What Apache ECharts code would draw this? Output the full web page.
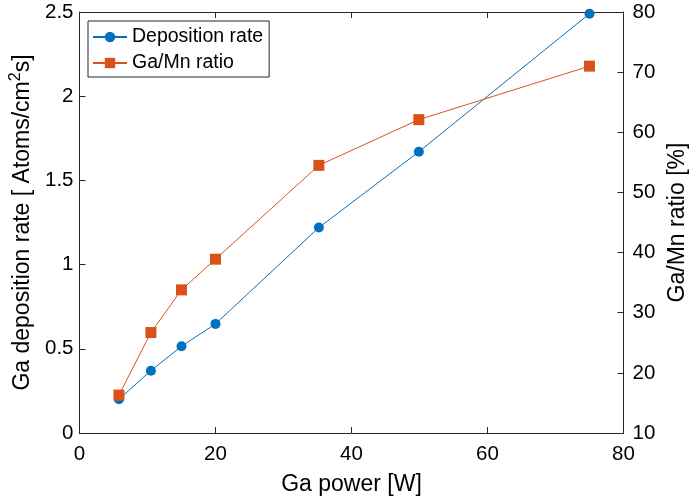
<!DOCTYPE html>
<html><head><meta charset="utf-8">
<script src="https://cdn.jsdelivr.net/npm/echarts@6/dist/echarts.min.js"></script>
<style>html,body{margin:0;padding:0;background:#fff}#c{width:691px;height:504px}</style>
</head><body><div id="c"></div>
<script>
var gaPower = [5.8, 10.5, 15, 20, 35.2, 49.9, 75];
var depositionRate = [0.2, 0.37, 0.515, 0.648, 1.22, 1.67, 2.49];
var gaMnRatio = [16.3, 26.7, 33.8, 38.9, 54.5, 62.1, 71.0];
var seriesNames = ['Deposition rate', 'Ga/Mn ratio'];

var FONT = '"Liberation Sans", Arial, sans-serif';
var AX = '#262626';
var NAMESIZE = 23;
var chart = echarts.init(document.getElementById('c'), null, {renderer: 'canvas'});
var axisCommon = {
  axisLine: {show: true, onZero: false, lineStyle: {color: AX, width: 1}},
  axisTick: {show: true, inside: true, length: 6, lineStyle: {color: AX}},
  splitLine: {show: false},
  axisLabel: {color: '#000', fontSize: 20.5, fontFamily: FONT},
  nameTextStyle: {color: '#000', fontSize: NAMESIZE, fontFamily: FONT}
};
chart.setOption({
  animation: false,
  grid: {left: 79.5, right: 67.5, top: 12, bottom: 71, containLabel: false, outerBoundsMode: 'none'},
  legend: {
    orient: 'vertical', left: 88, top: 21,
    itemWidth: 34, itemHeight: 13, itemGap: 6,
    padding: [6, 6, 4, 4],
    borderColor: AX, borderWidth: 1,
    textStyle: {color: '#000', fontSize: 19.5, lineHeight: 20, fontFamily: FONT},
    data: seriesNames
  },
  xAxis: [
    Object.assign({}, axisCommon, {
      type: 'value', min: 0, max: 80, interval: 20, position: 'bottom',
      name: 'Ga power [W]', nameLocation: 'middle', nameGap: 40,
      axisLabel: Object.assign({}, axisCommon.axisLabel, {margin: 11})
    }),
    Object.assign({}, axisCommon, {
      type: 'value', min: 0, max: 80, interval: 20, position: 'top',
      axisLabel: {show: false}
    })
  ],
  yAxis: [
    Object.assign({}, axisCommon, {
      type: 'value', min: 0, max: 2.5, interval: 0.5, position: 'left',
      name: '{a|Ga deposition rate [ Atoms/cm}{s|2}{a|s]}', nameLocation: 'middle', nameGap: 40,
      nameTextStyle: {
        color: '#000', fontSize: NAMESIZE, fontFamily: FONT,
        rich: {
          a: {color: '#000', fontSize: NAMESIZE, fontFamily: FONT, lineHeight: 27, verticalAlign: 'bottom'},
          s: {color: '#000', fontSize: 16, fontFamily: FONT, lineHeight: 27, verticalAlign: 'top'}
        }
      },
      axisLabel: Object.assign({}, axisCommon.axisLabel, {margin: 6})
    }),
    Object.assign({}, axisCommon, {
      type: 'value', min: 10, max: 80, interval: 10, position: 'right',
      name: 'Ga/Mn ratio [%]', nameLocation: 'middle', nameGap: 43, nameRotate: 90,
      axisLabel: Object.assign({}, axisCommon.axisLabel, {margin: 9})
    })
  ],
  series: [
    {
      name: seriesNames[0], type: 'line', xAxisIndex: 0, yAxisIndex: 0,
      data: gaPower.map(function (x, i) { return [x, depositionRate[i]]; }),
      symbol: 'circle', symbolSize: 10,
      lineStyle: {color: '#0072BD', width: 1},
      itemStyle: {color: '#0072BD'}
    },
    {
      name: seriesNames[1], type: 'line', xAxisIndex: 0, yAxisIndex: 1,
      data: gaPower.map(function (x, i) { return [x, gaMnRatio[i]]; }),
      symbol: 'rect', symbolSize: 11,
      lineStyle: {color: '#D95319', width: 1},
      itemStyle: {color: '#D95319'}
    }
  ]
});
</script></body></html>
